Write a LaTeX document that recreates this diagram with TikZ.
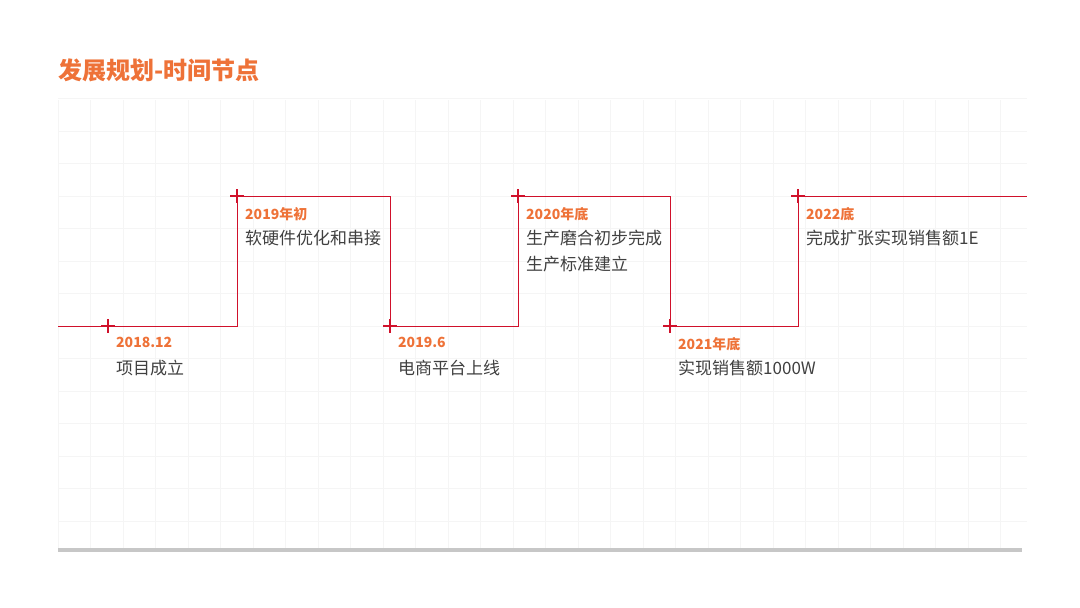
\documentclass[tikz,border=0pt]{standalone}
\usepackage{fontspec}
\setmainfont{Noto Sans CJK SC}
\newfontfamily\cjk{Noto Sans CJK SC}
\usetikzlibrary{positioning,calc}
\definecolor{titleorange}{HTML}{EE7238}
\definecolor{lineRed}{HTML}{D0112B}
\definecolor{txtgray}{HTML}{404040}
\tikzset{
  mark cross/.style={lineRed, line width=1.6pt},
  yearlabel/.style={anchor=north west, inner sep=0pt, text=titleorange, font=\cjk\bfseries\fontsize{14}{16}\selectfont},
  desclabel/.style={anchor=north west, inner sep=0pt, text=txtgray, align=left, font=\cjk\fontsize{17}{26}\selectfont},
}
\begin{document}
\begin{tikzpicture}[x=1pt,y=-1pt]
    \useasboundingbox (0,0) rectangle (1080,608);
    % grid
    \foreach \gx in {58,90.5,...,1030} \draw[black!4, line width=0.6pt] (\gx,100) -- (\gx,550);
    \foreach \gy in {98.5,131,...,550} \draw[black!4, line width=0.6pt] (58,\gy) -- (1027,\gy);
    \draw[black!22, line width=4pt] (58,550) -- (1022,550);
    \node[anchor=west, inner sep=0pt, text=titleorange, font=\cjk\bfseries\fontsize{24}{28}\selectfont] (title) at (58,70) {发展规划-时间节点};

    % step line
    \draw[lineRed, line width=1pt] (58,326) -- (237,326) -- (237,196) -- (390,196) -- (390,326)
        -- (518,326) -- (518,196) -- (670,196) -- (670,326) -- (798,326) -- (798,196) -- (1027,196);

    \foreach \mx/\my/\nm in {108/326/a, 237/196/b, 390/326/c, 518/196/d, 670/326/e, 798/196/f}{
        \coordinate (p\nm) at (\mx,\my);
        \draw[mark cross] ($(p\nm)+(-7,0)$) -- ($(p\nm)+(7,0)$);
        \draw[mark cross] ($(p\nm)+(0,-7)$) -- ($(p\nm)+(0,7)$);
    }

    \node[yearlabel] (ya) at (116,337) {2018.12};
    \node[desclabel] (da) at (116,360) {项目成立};
    \node[yearlabel] (yb) at (245,207) {2019年初};
    \node[desclabel] (db) at (245,230) {软硬件优化和串接};
    \node[yearlabel] (yc) at (398,337) {2019.6};
    \node[desclabel] (dc) at (398,360) {电商平台上线};
    \node[yearlabel] (yd) at (526,207) {2020年底};
    \node[desclabel] (dd) at (526,230) {生产磨合初步完成\\生产标准建立};
    \node[yearlabel] (ye) at (678,337) {2021年底};
    \node[desclabel] (de) at (678,360) {实现销售额1000W};
    \node[yearlabel] (yf) at (806,207) {2022底};
    \node[desclabel] (df) at (806,230) {完成扩张实现销售额1E};
\end{tikzpicture}
\end{document}
